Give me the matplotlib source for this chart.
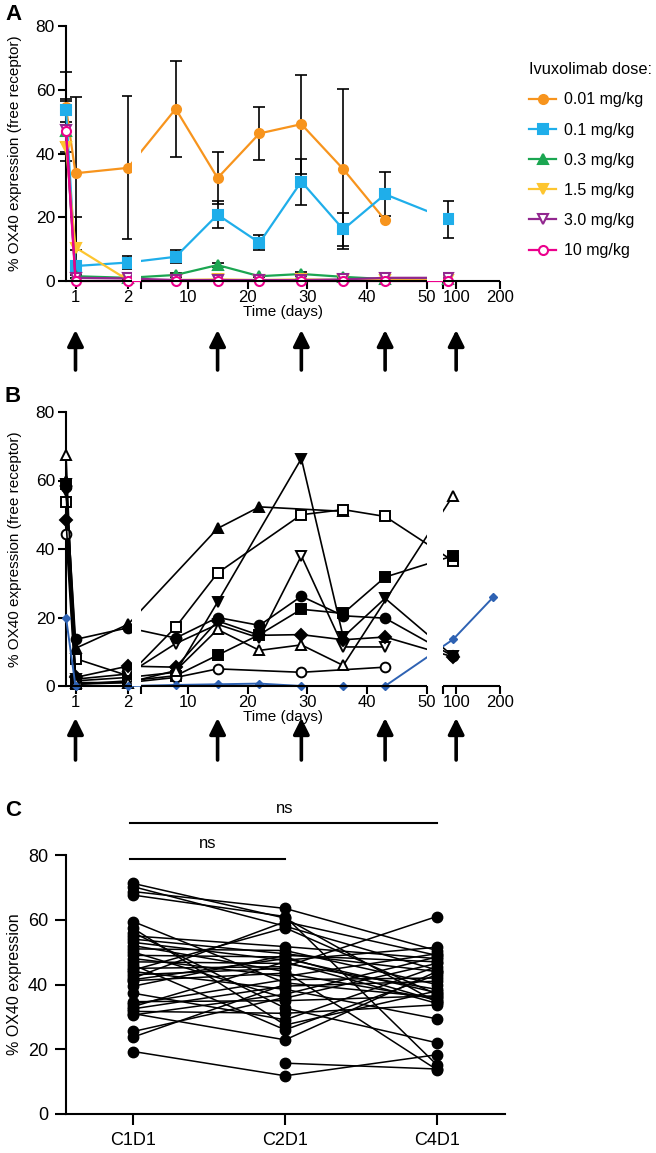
import numpy as np
import matplotlib
matplotlib.use('Agg')
import matplotlib.pyplot as plt
import matplotlib.transforms as mtransforms

plt.rcParams['font.family'] = ['Liberation Sans', 'DejaVu Sans']
nan = np.nan

# ---------------- data ----------------
# Panel A: mean free-receptor OX40 per dose (time in days, 0 = pre-dose)
days_a = [0, 1, 2, 8, 15, 22, 29, 36, 43, 82]
dose_labels = ['0.01 mg/kg', '0.1 mg/kg', '0.3 mg/kg', '1.5 mg/kg', '3.0 mg/kg', '10 mg/kg']
a_001 = [54.5, 33.8, 35.5, 54.0, 32.3, 46.3, 49.2, 35.1, 19.1, nan]
a_001_err = [11.0, 24.0, 22.4, 15.0, 8.2, 8.4, 15.5, 25.0, 0, 0]
a_01 = [53.5, 4.7, 5.8, 7.6, 20.8, 12.0, 31.2, 16.2, 27.2, 19.3]
a_01_err = [3.5, 1.5, 2.0, 2.1, 4.2, 2.4, 7.2, 5.2, 6.9, 5.9]
a_03 = [47.0, 1.5, 1.0, 1.9, 5.0, 1.5, 2.2, 1.3, 0.6, 0.5]
a_03_err = [9.5, 0.5, 0.4, 0.5, 0.6, 0.4, 0.5, 0.4, 0, 0]
a_15 = [42.0, 10.5, 0.3, 0.3, 0.5, 0.3, 0.5, 0.3, 0.3, 0.3]
a_15_err = [0, 9.5, 0, 0, 0, 0, 0, 0, 0, 0]
a_30 = [47.5, 1.0, 0.8, 0.3, 0.3, 0.3, 0.3, 0.5, 1.0, 1.0]
a_30_err = [7.0, 0, 0, 0, 0, 0, 0, 0, 0, 0]
a_10 = [47.0, 0.0, 0.0, 0.0, 0.0, 0.0, 0.0, 0.0, 0.0, 0.0]
a_10_err = [0, 0, 0, 0, 0, 0, 0, 0, 0, 0]

# Panel B: individual patients
days_b = [0, 1, 2, 8, 15, 22, 29, 36, 43, 93, 185]
b_tri_f = [60, 11, 18, nan, 46, 52.3, nan, 51, nan, nan, nan]
b_sq_o = [53.8, 8, 3, 17.2, 33, nan, 50, 51.5, 49.5, 36.5, nan]
b_dtri_f = [59, 1.5, 2.5, 4, 24.5, nan, 66.4, 14.3, 25.6, 8.7, nan]
b_dtri_o = [57, 2, 3.5, 12.4, 18, 14, 38, 11.4, 11.4, nan, nan]
b_circ_f = [58, 13.6, 17, 14, 20, 17.7, 26.2, 20.5, 19.8, 8.7, nan]
b_sq_f = [59, 0.5, 1.5, 3, 9, 15, 22.4, 21.2, 31.8, 38, nan]
b_circ_o = [44.5, 0.5, 1, 2.5, 5, nan, 4, nan, 5.5, nan, nan]
b_diam_f = [48.5, 2.5, 5.8, 5.5, 19, 14.8, 15, 13.5, 14.3, 8.5, nan]
b_tri_o = [67.5, 1, 1, 4.5, 16.5, 10.4, 12, 6, nan, 55.6, nan]
b_blue = [20, 0, 0, 0.3, 0.5, 0.7, 0, 0, 0, 13.6, 26]

dose_days = [1, 15, 29, 43, 100]

# Panel C: paired samples
visits = ['C1D1', 'C2D1', 'C4D1']
c1d1 = [71.2, 70.2, 68.7, 67.6, 59.4, 57.3, 56.0, 55.0, 54.0, 53.0, 52.0, 51.0, 50.0,
        49.0, 48.0, 47.0, 46.0, 45.0, 44.0, 43.0, 42.0, 41.2, 39.5, 37.3, 34.7, 34.0,
        33.2, 32.5, 31.7, 31.0, 30.6, 25.5, 23.8, 19.3, nan, 44.5, 41.5]
c2d1 = [60.5, 58.0, 63.5, 61.0, 40.5, 27.5, 32.7, 51.7, 49.5, 47.5, 44.0, 50.5, 35.8,
        48.5, 42.5, 46.5, 26.0, 45.5, 38.5, 45.0, 59.4, 43.5, 49.0, 29.1, 35.0, 41.5,
        47.0, 39.5, 31.1, 22.9, 37.0, 36.0, 40.0, 11.8, 15.7, 57.5, 48.0]
c4d1 = [34.5, 44.5, 50.5, 15.2, 36.0, 38.0, 22.0, 48.0, 44.0, 51.5, 13.7, 40.0, 46.5,
        35.0, 49.5, 38.5, 43.0, 61.0, 29.4, nan, 49.0, 35.5, 47.0, 45.5, 36.5, 42.0,
        34.2, 41.0, 33.7, 44.0, 48.5, nan, nan, 18.3, 13.9, 37.0, 37.5]

# ---------------- figure ----------------
W, H = 656, 1153
fig = plt.figure(figsize=(W / 100, H / 100), dpi=100)


def px_axes(l, t, r, b):
    return fig.add_axes([l / W, 1 - b / H, (r - l) / W, (b - t) / H])


# broken time axis (piecewise linear)
bp_days = [0, 1, 2, 2.08, 2.2, 50, 70, 200]
bp_pos = [0, 9.5, 62, 66, 75, 361, 377, 434]
segs = [(0, 2.08), (2.2, 50), (70, 200)]
gaps = [(2.08, 2.2), (50, 70)]


def fwd(x):
    return np.interp(x, bp_days, bp_pos)


def inv(p):
    return np.interp(p, bp_pos, bp_days)


def time_axis(ax, y_arrow):
    ax.set_xscale('function', functions=(fwd, inv))
    ax.set_xlim(0, 200)
    ax.set_ylim(0, 80)
    ax.spines[['top', 'right', 'bottom']].set_visible(False)
    ax.spines['left'].set_linewidth(1.5)
    for a, b in gaps:
        ax.axvspan(a, b, color='white', lw=0, zorder=8)
    for a, b in segs:
        ax.plot([a, b], [0, 0], color='k', lw=1.5, clip_on=False, zorder=9,
                solid_capstyle='butt')
    ax.set_xticks([1, 2, 10, 20, 30, 40, 50, 100, 200])
    ax.set_xticklabels(['1', '2', '10', '20', '30', '40', '50', '100', '200'])
    ax.set_xticks([2.2, 70], minor=True)
    ax.set_yticks([0, 20, 40, 60, 80])
    ax.tick_params(axis='both', which='both', length=6, width=1.5, labelsize=12.5,
                   direction='out', pad=2)
    ax.tick_params(axis='x', which='both', labelsize=12, pad=0.5)
    ax.set_xlabel('Time (days)', fontsize=11, labelpad=0)
    ax.set_ylabel('% OX40 expression (free receptor)', fontsize=11)
    ax.yaxis.set_label_coords(-0.102, 0.5)
    trans = mtransforms.blended_transform_factory(ax.transData, fig.transFigure)
    for d in dose_days:
        ax.annotate('', xy=(d, 1 - y_arrow[0] / H), xytext=(d, 1 - y_arrow[1] / H),
                    xycoords=trans, textcoords=trans, annotation_clip=False,
                    arrowprops=dict(arrowstyle='-|>', color='k', lw=2.6,
                                    mutation_scale=24, shrinkA=0, shrinkB=0))


# ---------- Panel A ----------
axA = px_axes(66, 26, 500, 281)
colors = ['#F7941D', '#1FAEEA', '#1BA651', '#FDC52F', '#92278F', '#EC008C']
markers = ['o', 's', '^', 'v', 'v', 'o']
faces = ['#F7941D', '#1FAEEA', '#1BA651', '#FDC52F', 'white', 'white']
series_a = [a_001, a_01, a_03, a_15, a_30, a_10]
errs_a = [a_001_err, a_01_err, a_03_err, a_15_err, a_30_err, a_10_err]
t_a = np.array(days_a, float)
for vals, errs in zip(series_a, errs_a):
    v = np.array(vals, float)
    e = np.array(errs, float)
    m = ~np.isnan(v) & (e > 0)
    eb = axA.errorbar(t_a[m], v[m], yerr=e[m], fmt='none', ecolor='k', elinewidth=1.2,
                      capsize=4, capthick=1.2, zorder=2)
    for c in eb.get_children():
        c.set_clip_on(False)
for vals, col, mk, fc, lab in zip(series_a, colors, markers, faces, dose_labels):
    v = np.array(vals, float)
    m = ~np.isnan(v)
    axA.plot(t_a[m], v[m], color=col, marker=mk, mfc=fc, mec=col, ms=6.5, mew=1.5,
             lw=1.6, label=lab, clip_on=False, zorder=3)
time_axis(axA, (330, 370))
leg = axA.legend(loc='upper left', bbox_to_anchor=(526 / W, 1 - 59 / H),
                 bbox_transform=fig.transFigure, frameon=False, title='Ivuxolimab dose:',
                 fontsize=11.5, title_fontsize=11.8, handlelength=1.7, handletextpad=0.5,
                 labelspacing=0.95, alignment='left', borderaxespad=0, borderpad=0.2)

# ---------- Panel B ----------
axB = px_axes(66, 412, 500, 686)
t_b = np.array(days_b, float)
b_series = [
    (b_tri_f, '^', 'k'), (b_sq_o, 's', 'white'), (b_dtri_f, 'v', 'k'),
    (b_dtri_o, 'v', 'white'), (b_circ_f, 'o', 'k'), (b_sq_f, 's', 'k'),
    (b_circ_o, 'o', 'white'), (b_diam_f, 'D', 'k'), (b_tri_o, '^', 'white'),
]
for vals, mk, fc in b_series:
    v = np.array(vals, float)
    m = ~np.isnan(v)
    axB.plot(t_b[m], v[m], color='k', marker=mk, mfc=fc, mec='k', ms=7 if mk != 'D' else 6,
             mew=1.4, lw=1.2, clip_on=False, zorder=3)
axB.plot(t_b, b_blue, color='#2E62B3', marker='D', ms=4.5, lw=1.4, clip_on=False, zorder=4)
time_axis(axB, (718, 760))

# ---------- Panel C ----------
narrow = ['Liberation Sans Narrow', 'Liberation Sans', 'DejaVu Sans']
axC = px_axes(66, 855, 505, 1114)
xc = np.arange(len(visits))
axC.plot(xc, np.array([c1d1, c2d1, c4d1]), color='k', lw=1.1, marker='o', ms=7.5,
         clip_on=False, zorder=3)
axC.set_xlim(-0.445, 2.45)
axC.set_ylim(0, 80)
axC.set_xticks(xc)
axC.set_xticklabels(visits, family=narrow)
axC.set_yticks([0, 20, 40, 60, 80])
axC.set_yticklabels(['0', '20', '40', '60', '80'], family=narrow)
axC.spines[['top', 'right']].set_visible(False)
axC.spines[['left', 'bottom']].set_linewidth(1.5)
axC.tick_params(axis='both', length=8, width=1.5, labelsize=13, pad=5)
axC.set_ylabel('% OX40 expression', fontsize=11.5)
axC.yaxis.set_label_coords(-0.1, 0.5)
axC.plot([-0.02, 2.0], [89.8, 89.8], color='k', lw=1.5, clip_on=False)
axC.plot([-0.02, 1.0], [78.7, 78.7], color='k', lw=1.5, clip_on=False)
axC.text(1.0, 92.2, 'ns', ha='center', va='bottom', fontsize=12, family=narrow)
axC.text(0.49, 81.1, 'ns', ha='center', va='bottom', fontsize=12, family=narrow)

for lbl, y in [('A', 14), ('B', 396), ('C', 810)]:
    fig.text(5 / W, 1 - y / H, lbl, fontsize=16, fontweight='bold', va='center')

fig.savefig('out.png', dpi=100)
